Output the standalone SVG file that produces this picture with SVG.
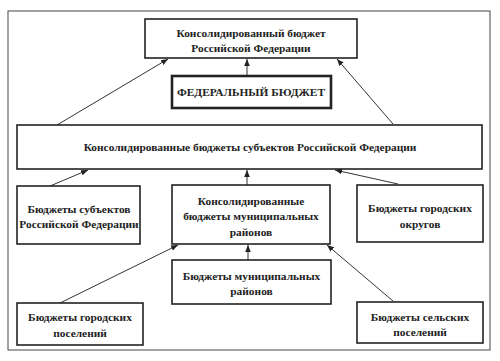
<svg xmlns="http://www.w3.org/2000/svg" width="500" height="361" viewBox="0 0 500 361">
<defs>
<marker id="ah" viewBox="0 0 10 10" refX="10" refY="5" markerWidth="7" markerHeight="7" markerUnits="userSpaceOnUse" orient="auto">
<path d="M0,1 L10,5 L0,9 Z" fill="#222"/>
</marker>
<style>
.box{fill:#fff;stroke:#222;stroke-width:1.6}
.fed{fill:#fff;stroke:#222;stroke-width:2.6}
.frame{fill:#fff;stroke:#444;stroke-width:1}
text{font-family:"Liberation Serif","Times New Roman",serif;font-size:11.4px;font-weight:bold;fill:#222;text-anchor:middle}
.ln{stroke:#333;stroke-width:1;fill:none;marker-end:url(#ah)}
</style>
</defs>
<rect width="500" height="361" fill="#fff"/>
<rect class="frame" x="8" y="11" width="482" height="339"/>
<g id="connectors">
<line class="ln" x1="57" y1="125" x2="168" y2="59"/>
<line class="ln" x1="247" y1="76" x2="247" y2="59"/>
<line class="ln" x1="393" y1="124" x2="337" y2="59"/>
<line class="ln" x1="50" y1="186" x2="88" y2="170"/>
<line class="ln" x1="247" y1="185" x2="247" y2="170"/>
<line class="ln" x1="398" y1="184" x2="335" y2="170"/>
<line class="ln" x1="60" y1="303" x2="178" y2="245"/>
<line class="ln" x1="248" y1="260" x2="248" y2="245"/>
<line class="ln" x1="393" y1="301" x2="327" y2="245"/>
</g>
<g id="consolidated-rf">
<rect class="box" x="145" y="19" width="212" height="39"/>
<text x="251" y="37">Консолидированный бюджет</text>
<text x="251" y="52">Российской Федерации</text>
</g>
<g id="federal">
<rect class="fed" x="172" y="76" width="159" height="32"/>
<text x="251" y="96">ФЕДЕРАЛЬНЫЙ БЮДЖЕТ</text>
</g>
<g id="consolidated-subjects">
<rect class="box" x="17" y="125" width="465" height="44"/>
<text x="250" y="151">Консолидированные бюджеты субъектов Российской Федерации</text>
</g>
<g id="subjects">
<rect class="box" x="17" y="186" width="123" height="58"/>
<text x="79" y="213">Бюджеты субъектов</text>
<text x="79" y="228">Российской Федерации</text>
</g>
<g id="consolidated-municipal">
<rect class="box" x="172" y="185" width="158" height="59"/>
<text x="251" y="205">Консолидированные</text>
<text x="251" y="220">бюджеты муниципальных</text>
<text x="251" y="236">районов</text>
</g>
<g id="city-districts">
<rect class="box" x="357" y="185" width="126" height="57"/>
<text x="420" y="212">Бюджеты городских</text>
<text x="420" y="228">округов</text>
</g>
<g id="municipal">
<rect class="box" x="172" y="260" width="159" height="44"/>
<text x="251.5" y="280">Бюджеты муниципальных</text>
<text x="251.5" y="295">районов</text>
</g>
<g id="city-settlements">
<rect class="box" x="17" y="303" width="126" height="42"/>
<text x="80" y="321">Бюджеты городских</text>
<text x="80" y="337">поселений</text>
</g>
<g id="rural-settlements">
<rect class="box" x="357" y="302" width="126" height="41"/>
<text x="420" y="321">Бюджеты сельских</text>
<text x="420" y="336">поселений</text>
</g>
</svg>
